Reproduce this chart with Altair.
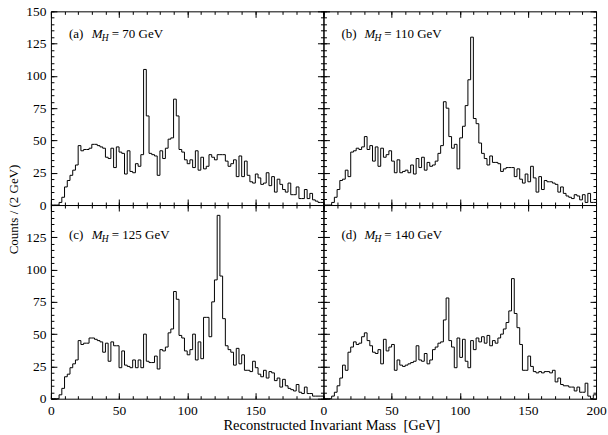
import altair as alt
import pandas as pd

# ---------------- data ----------------
MASS_EDGES = list(range(0, 202, 2))  # 2 GeV bin edges, 0..200

COUNTS_A = [0, 0, 0, 2, 6, 14, 19, 23, 27, 31,
            46, 42, 43, 43, 44, 47, 47, 46, 45, 44,
            37, 36, 44, 29, 45, 41, 40, 24, 42, 26,
            25, 32, 30, 39, 105, 69, 40, 39, 38, 23,
            42, 36, 44, 51, 52, 82, 69, 43, 41, 35,
            32, 35, 29, 42, 27, 37, 28, 30, 39, 37,
            35, 39, 39, 39, 34, 30, 32, 35, 22, 38,
            22, 34, 23, 18, 17, 24, 21, 16, 17, 25,
            15, 22, 10, 20, 16, 12, 10, 17, 8, 8,
            14, 5, 5, 12, 5, 9, 4, 3, 2, 2]

COUNTS_B = [0, 0, 0, 2, 6, 12, 19, 20, 27, 22,
            41, 42, 44, 43, 45, 53, 43, 46, 34, 45,
            30, 44, 37, 39, 42, 34, 25, 35, 25, 26,
            27, 25, 31, 24, 36, 29, 37, 27, 33, 30,
            31, 34, 40, 46, 80, 75, 53, 44, 47, 28,
            52, 61, 77, 97, 130, 67, 63, 48, 40, 36,
            31, 38, 33, 33, 32, 26, 28, 29, 29, 29,
            22, 28, 20, 17, 24, 18, 30, 21, 10, 22,
            12, 19, 18, 18, 17, 16, 10, 14, 9, 7,
            6, 5, 8, 7, 4, 8, 2, 9, 2, 2]

COUNTS_C = [0, 0, 0, 3, 8, 17, 19, 24, 27, 30,
            45, 42, 43, 43, 47, 47, 46, 45, 44, 36,
            43, 29, 44, 41, 41, 24, 37, 26, 25, 24,
            30, 24, 30, 24, 50, 29, 28, 28, 33, 23,
            38, 37, 40, 51, 54, 83, 77, 49, 47, 37,
            34, 38, 50, 30, 44, 31, 63, 63, 48, 75,
            92, 142, 95, 62, 41, 38, 36, 26, 39, 27,
            34, 22, 22, 21, 29, 24, 19, 17, 22, 16,
            21, 20, 14, 16, 9, 15, 10, 8, 7, 6,
            11, 5, 4, 9, 4, 4, 2, 2, 2, 2]

COUNTS_D = [0, 0, 0, 2, 5, 10, 16, 26, 22, 36,
            40, 44, 42, 43, 48, 51, 45, 41, 36, 35,
            38, 27, 46, 37, 40, 42, 22, 30, 26, 25,
            26, 27, 28, 29, 41, 30, 29, 35, 27, 30,
            38, 40, 43, 44, 61, 78, 45, 40, 24, 47,
            32, 46, 29, 24, 45, 38, 47, 44, 48, 43,
            49, 41, 45, 43, 47, 50, 54, 59, 68, 93,
            66, 55, 42, 22, 22, 33, 25, 21, 20, 21,
            20, 21, 21, 20, 22, 13, 16, 11, 10, 10,
            9, 9, 6, 9, 5, 5, 12, 2, 0, 3]

PANEL_TAGS = ["(a)", "(b)", "(c)", "(d)"]
HIGGS_MASSES = ["= 70 GeV", "= 110 GeV", "= 125 GeV", "= 140 GeV"]

X_MAJOR_LEFT = [0, 50, 100, 150]
X_MAJOR_RIGHT = [0, 50, 100, 150, 200]
X_MINOR = list(range(0, 201, 10))
Y_MAJOR_TOP = [0, 25, 50, 75, 100, 125, 150]
Y_MAJOR_BOTTOM = [0, 25, 50, 75, 100, 125]
Y_MINOR = list(range(0, 151, 5))

X_TITLE = "Reconstructed Invariant Mass\u00a0 [GeV]"
Y_TITLE = "Counts / (2 GeV)"

# ---------------- layout ----------------
W, H = 273, 194
FONT = "Liberation Serif"
MAJ, MIN = 6, 3


def axis(orient, values, size, labels, pad=5, **kw):
    return alt.Axis(orient=orient, values=values, tickSize=size, offset=-size,
                    domain=False, grid=False, labels=labels, minExtent=0,
                    labelPadding=pad, labelFlush=False, labelOverlap=False,
                    labelFont=FONT, labelFontSize=13.5, labelColor="black",
                    titleFont=FONT, titleColor="black", titleFontWeight="normal",
                    ticks=True, tickColor="black", tickWidth=1, **kw)


def panel(counts, idx, col, row):
    df = pd.DataFrame({"mass": MASS_EDGES, "counts": counts + [counts[-1]]})
    xs = alt.Scale(domain=[0, 200], nice=False, zero=False)
    ys = alt.Scale(domain=[0, 150], nice=False, zero=False)
    left = col == 0
    bottom = row == 1
    xmaj = X_MAJOR_LEFT if left else X_MAJOR_RIGHT
    ymaj = Y_MAJOR_TOP if row == 0 else Y_MAJOR_BOTTOM

    xkw = {}
    if left and bottom:
        xkw = dict(title=X_TITLE, titleX=281, titleY=33, titleAlign="center",
                   titleBaseline="middle", titleAngle=0, titleFontSize=14.5)
    ykw = {}
    if left and not bottom:
        ykw = dict(title=Y_TITLE, titleX=-43, titleY=H + 4, titleAlign="center",
                   titleBaseline="middle", titleAngle=270, titleFontSize=13)

    base = alt.Chart(df)
    main = base.mark_line(interpolate="step-after", color="black", strokeWidth=1).encode(
        x=alt.X("mass:Q", scale=xs, axis=axis("bottom", xmaj, MAJ, bottom, pad=5, **xkw),
                title=X_TITLE if xkw else None),
        y=alt.Y("counts:Q", scale=ys, axis=axis("left", ymaj, MAJ, left, pad=5, **ykw),
                title=Y_TITLE if ykw else None),
    )
    layers = [main]
    for xo, yo, xv, yv, sz in [("bottom", "left", X_MINOR, Y_MINOR, MIN),
                               ("top", "right", xmaj + [200], ymaj + [150], MAJ),
                               ("top", "right", X_MINOR, Y_MINOR, MIN)]:
        layers.append(base.mark_line(opacity=0).encode(
            x=alt.X("mass:Q", scale=xs, axis=axis(xo, xv, sz, False), title=None),
            y=alt.Y("counts:Q", scale=ys, axis=axis(yo, yv, sz, False), title=None),
        ))

    ty = 23 if row == 0 else 30
    lab = pd.DataFrame({"tag": [PANEL_TAGS[idx]], "mh": [HIGGS_MASSES[idx]],
                        "m": ["M"], "h": ["H"]})
    tb = alt.Chart(lab)
    txt = dict(font=FONT, fontSize=13, color="black", align="left", baseline="middle")
    layers.append(tb.mark_text(**txt).encode(text="tag:N", x=alt.value(18), y=alt.value(ty)))
    layers.append(tb.mark_text(fontStyle="italic", **txt).encode(
        text="m:N", x=alt.value(41), y=alt.value(ty)))
    layers.append(tb.mark_text(font=FONT, fontSize=9.5, fontStyle="italic", color="black",
                               align="left", baseline="middle").encode(
        text="h:N", x=alt.value(51), y=alt.value(ty + 4)))
    layers.append(tb.mark_text(**txt).encode(text="mh:N", x=alt.value(61), y=alt.value(ty)))

    return alt.layer(*layers).resolve_axis(x="independent", y="independent").properties(
        width=W, height=H)


pa = panel(COUNTS_A, 0, 0, 0)
pb = panel(COUNTS_B, 1, 1, 0)
pc = panel(COUNTS_C, 2, 0, 1)
pd_ = panel(COUNTS_D, 3, 1, 1)

chart = alt.concat(pa, pb, pc, pd_, columns=2, spacing=0, bounds="flush").properties(
    padding={"left": 7, "top": 3, "right": 1, "bottom": 1},
    background="white",
).configure_view(
    stroke="black", strokeWidth=1
)

chart.save("out.html", embed_options={"renderer": "svg", "actions": False})
